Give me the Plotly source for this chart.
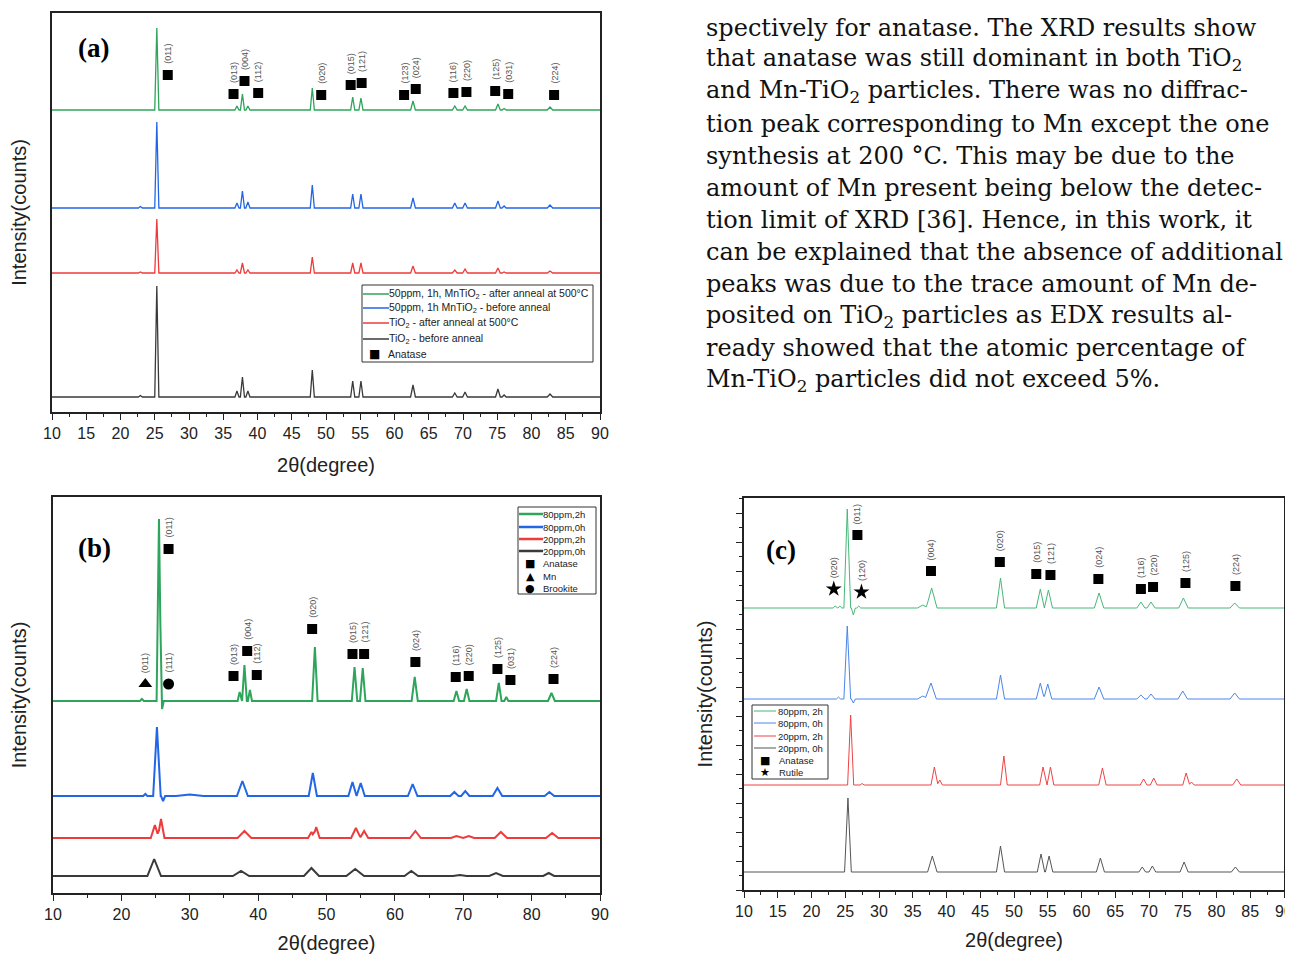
import plotly.graph_objects as go

W, H = 1293, 954
OFF = 8  # page body margin offset of the plot div

# ---------------- DATA ----------------
# Panel (a): peak table (2theta positions shared, heights per series, a.u.)
a_pos = [22.9, 25.3, 37.0, 37.8, 38.6, 48.0, 53.9, 55.1, 62.7, 68.8, 70.3, 75.1, 76.0, 82.7]
a_wid = [0.3, 0.3, 0.3, 0.3, 0.3, 0.3, 0.3, 0.3, 0.35, 0.35, 0.35, 0.35, 0.3, 0.4]
a_green_h = [0.5, 82, 4, 16, 4, 22, 13, 12, 9, 4, 4, 6, 1.5, 3]
a_blue_h = [1.5, 86, 5, 17, 6, 23, 14, 14, 10, 5, 5, 7, 2, 3]
a_red_h = [1.0, 54, 3, 10, 3, 16, 10, 10, 7, 3, 4, 5, 1, 2]
a_black_h = [1.5, 111, 6, 20, 6, 27, 16, 16, 12, 4, 5, 8, 2, 3]
a_base = {"green": 302, "blue": 204, "red": 139, "black": 15}
a_names = ["50ppm, 1h, MnTiO<sub>2</sub> - after anneal at 500°C",
           "50ppm, 1h MnTiO<sub>2</sub> - before anneal",
           "TiO<sub>2</sub> - after anneal at 500°C",
           "TiO<sub>2</sub> - before anneal"]
a_anat_x = [26.9, 36.5, 38.1, 40.1, 49.3, 53.6, 55.2, 61.4, 63.1, 68.6, 70.5, 74.7, 76.6, 83.3]
a_anat_y = [337, 318, 331, 319, 317, 327, 329, 317, 323, 319, 320, 321, 318, 317]
a_anat_lbl = ["(011)", "(013)", "(004)", "(112)", "(020)", "(015)", "(121)", "(123)",
              "(024)", "(116)", "(220)", "(125)", "(031)", "(224)"]

# Panel (b)
b_green_pos = [23.0, 25.5, 25.95, 37.3, 38.0, 38.8, 48.3, 54.1, 55.3, 62.9, 69.0, 70.5, 75.2, 76.3, 82.9]
b_green_h = [2, 182, -8, 9, 36, 11, 54, 34, 33, 24, 10, 12, 18, 4, 8]
b_green_w = [0.3, 0.35, 0.25, 0.3, 0.35, 0.3, 0.4, 0.4, 0.4, 0.45, 0.4, 0.4, 0.4, 0.3, 0.5]
b_blue_pos = [23.5, 25.2, 26.1, 30.0, 37.7, 48.0, 53.8, 55.0, 62.6, 68.7, 70.3, 75.0, 82.6]
b_blue_h = [2, 69, -5, 1.5, 15, 23, 14, 13, 12, 4, 5, 8, 4]
b_blue_w = [0.3, 0.55, 0.3, 2.0, 0.8, 0.6, 0.6, 0.6, 0.7, 0.6, 0.6, 0.7, 0.7]
b_red_pos = [24.9, 25.8, 38.0, 47.8, 48.5, 54.3, 55.5, 63.0, 69.0, 70.8, 75.5, 83.0]
b_red_h = [13, 19, 7, 6, 11, 10, 7, 7, 2, 2, 6, 5]
b_red_w = [0.6, 0.5, 1.0, 0.5, 0.5, 0.7, 0.6, 0.8, 0.8, 0.8, 0.9, 0.9]
b_black_pos = [24.8, 37.5, 47.8, 54.2, 62.4, 69.5, 74.8, 82.5]
b_black_h = [17, 5, 8, 7, 5, 1, 3, 3]
b_black_w = [1.0, 1.2, 1.1, 1.3, 1.0, 1.0, 1.0, 0.8]
b_base = {"green": 192, "blue": 97, "red": 55, "black": 17}
b_names = ["80ppm,2h", "80ppm,0h", "20ppm,2h", "20ppm,0h"]
b_anat_x = [26.9, 36.4, 38.4, 39.8, 47.9, 53.8, 55.5, 63.0, 68.9, 70.8, 75.0, 76.9, 83.2]
b_anat_y = [344, 217, 242, 218, 264, 239, 239, 231, 216, 217, 224, 213, 214]
b_anat_lbl = ["(011)", "(013)", "(004)", "(112)", "(020)", "(015)", "(121)", "(024)",
              "(116)", "(220)", "(125)", "(031)", "(224)"]
b_mn_x, b_mn_y, b_mn_lbl = [23.5], [209], ["(011)"]
b_br_x, b_br_y, b_br_lbl = [26.9], [209], ["(111)"]

# Panel (c)
c_green_pos = [23.5, 24.2, 25.3, 26.2, 27.0, 36.5, 37.8, 48.0, 53.9, 55.1, 62.6, 68.8, 70.3, 75.1, 82.7]
c_green_h = [2, 2, 99, -7, 2, 3, 20, 30, 19, 18, 15, 6, 6, 10, 5]
c_green_w = [0.3, 0.3, 0.5, 0.3, 0.3, 0.8, 0.8, 0.6, 0.6, 0.6, 0.7, 0.6, 0.6, 0.7, 0.7]
c_blue_pos = [24.0, 25.3, 26.2, 36.5, 37.7, 48.0, 53.9, 55.0, 62.6, 68.8, 70.3, 75.0, 82.7]
c_blue_h = [2, 73, -4, 3, 16, 24, 16, 15, 12, 4, 5, 8, 6]
c_blue_w = [0.3, 0.5, 0.3, 0.8, 0.8, 0.6, 0.6, 0.6, 0.7, 0.6, 0.6, 0.7, 0.7]
c_red_pos = [25.8, 27.5, 38.2, 39.0, 48.5, 54.3, 55.4, 63.1, 69.2, 70.7, 75.5, 76.3, 83.0]
c_red_h = [70, 1.5, 18, 5, 29, 18, 18, 17, 6, 7, 12, 3, 6]
c_red_w = [0.45, 0.3, 0.5, 0.4, 0.5, 0.5, 0.5, 0.55, 0.5, 0.5, 0.5, 0.4, 0.6]
c_black_pos = [25.4, 37.9, 48.0, 54.0, 55.2, 62.8, 69.0, 70.5, 75.2, 82.8]
c_black_h = [74, 16, 26, 18, 16, 14, 5, 6, 10, 5]
c_black_w = [0.5, 0.7, 0.6, 0.55, 0.55, 0.6, 0.5, 0.5, 0.6, 0.6]
c_base = {"green": 282, "blue": 191, "red": 105, "black": 18}
c_names = ["80ppm, 2h", "80ppm, 0h", "20ppm, 2h", "20ppm, 0h"]
c_anat_x = [26.8, 37.7, 47.9, 53.3, 55.4, 62.5, 68.8, 70.6, 75.4, 82.8]
c_anat_y = [355, 319, 328, 316, 315, 311, 301, 303, 307, 304]
c_anat_lbl = ["(011)", "(004)", "(020)", "(015)", "(121)", "(024)", "(116)", "(220)", "(125)", "(224)"]
c_rut_x, c_rut_y, c_rut_lbl = [23.3, 27.4], [301, 298], ["(020)", "(120)"]

para_lines = [
    "(121), (024), (116), (220), (123), and (224) re-",
    "spectively for anatase. The XRD results show",
    "that anatase was still dominant in both TiO<sub>2</sub>",
    "and Mn-TiO<sub>2</sub> particles. There was no diffrac-",
    "tion peak corresponding to Mn except the one",
    "synthesis at 200 °C. This may be due to the",
    "amount of Mn present being below the detec-",
    "tion limit of XRD [36]. Hence, in this work, it",
    "can be explained that the absence of additional",
    "peaks was due to the trace amount of Mn de-",
    "posited on TiO<sub>2</sub> particles as EDX results al-",
    "ready showed that the atomic percentage of",
    "Mn-TiO<sub>2</sub> particles did not exceed 5%.",
]

# ---------------- helpers ----------------
def fx(p):
    return (p - OFF) / W


def fy(p):
    return 1 - (p - OFF) / H


def profile(base, pos, hts, wids):
    xs = {10.0, 90.0}
    for c, w in zip(pos, wids):
        xs |= {c - w, c, c + w}
    xs = sorted(x for x in xs if 10 <= x <= 90)
    ys = []
    for x in xs:
        y = base
        for c, h, w in zip(pos, hts, wids):
            d = abs(x - c)
            if d < w:
                y += h * (1 - d / w)
        ys.append(y)
    return xs, ys


SANS = "Liberation Sans, Arial, sans-serif"
fig = go.Figure()
annotations = []
shapes = []

A_COL = {"green": "#2ea55a", "blue": "#2266e6", "red": "#ee3b3b", "black": "#3a3a3a"}
C_COL = {"green": "#46b878", "blue": "#4a86e8", "red": "#ee4444", "black": "#555555"}

for key, h, nm in zip(["green", "blue", "red", "black"],
                      [a_green_h, a_blue_h, a_red_h, a_black_h], a_names):
    xs, ys = profile(a_base[key], a_pos, h, a_wid)
    fig.add_trace(go.Scatter(x=xs, y=ys, mode="lines", name=nm, showlegend=False,
                             line=dict(color=A_COL[key], width=1.3), xaxis="x", yaxis="y"))

for key, p, h, w, nm in zip(["green", "blue", "red", "black"],
                            [b_green_pos, b_blue_pos, b_red_pos, b_black_pos],
                            [b_green_h, b_blue_h, b_red_h, b_black_h],
                            [b_green_w, b_blue_w, b_red_w, b_black_w], b_names):
    xs, ys = profile(b_base[key], p, h, w)
    fig.add_trace(go.Scatter(x=xs, y=ys, mode="lines", name=nm, showlegend=False,
                             line=dict(color=A_COL[key], width=2), xaxis="x2", yaxis="y2"))

for key, p, h, w, nm in zip(["green", "blue", "red", "black"],
                            [c_green_pos, c_blue_pos, c_red_pos, c_black_pos],
                            [c_green_h, c_blue_h, c_red_h, c_black_h],
                            [c_green_w, c_blue_w, c_red_w, c_black_w], c_names):
    xs, ys = profile(c_base[key], p, h, w)
    fig.add_trace(go.Scatter(x=xs, y=ys, mode="lines", name=nm, showlegend=False,
                             line=dict(color=C_COL[key], width=1), xaxis="x3", yaxis="y3"))


def add_markers(xs, ys, lbls, symbol, size, xa, ya, name):
    fig.add_trace(go.Scatter(x=xs, y=ys, mode="markers", name=name, showlegend=False,
                             marker=dict(symbol=symbol, size=size, color="black"),
                             xaxis=xa, yaxis=ya))
    for x, y, t in zip(xs, ys, lbls):
        annotations.append(dict(x=x, y=y, xref=xa, yref=ya, text=t, showarrow=False,
                                textangle=-90, yanchor="bottom", xanchor="center", yshift=9,
                                font=dict(family=SANS, size=9, color="#555")))


add_markers(a_anat_x, a_anat_y, a_anat_lbl, "square", 10, "x", "y", "Anatase")
add_markers(b_anat_x, b_anat_y, b_anat_lbl, "square", 10, "x2", "y2", "Anatase")
add_markers(b_mn_x, b_mn_y, b_mn_lbl, "triangle-up", 12, "x2", "y2", "Mn")
add_markers(b_br_x, b_br_y, b_br_lbl, "circle", 11, "x2", "y2", "Brookite")
add_markers(c_anat_x, c_anat_y, c_anat_lbl, "square", 10, "x3", "y3", "Anatase")
add_markers(c_rut_x, c_rut_y, c_rut_lbl, "star", 12, "x3", "y3", "Rutile")


def legend_box(x0, y0, x1, y1):
    shapes.append(dict(type="rect", xref="paper", yref="paper", x0=fx(x0), x1=fx(x1),
                       y0=fy(y1), y1=fy(y0), line=dict(color="#333", width=1),
                       fillcolor="white", layer="above"))


def legend_line(x0, x1, y, color, width, text, tx, fs):
    shapes.append(dict(type="line", xref="paper", yref="paper", x0=fx(x0), x1=fx(x1),
                       y0=fy(y), y1=fy(y), line=dict(color=color, width=width), layer="above"))
    annotations.append(dict(x=fx(tx), y=fy(y), xref="paper", yref="paper", text=text,
                            showarrow=False, xanchor="left", yanchor="middle",
                            font=dict(family=SANS, size=fs, color="#222")))


def legend_glyph(gx, y, glyph, gsize, text, tx, fs):
    annotations.append(dict(x=fx(gx), y=fy(y), xref="paper", yref="paper", text=glyph,
                            showarrow=False, xanchor="center", yanchor="middle",
                            font=dict(family="DejaVu Sans", size=gsize, color="black")))
    annotations.append(dict(x=fx(tx), y=fy(y), xref="paper", yref="paper", text=text,
                            showarrow=False, xanchor="left", yanchor="middle",
                            font=dict(family=SANS, size=fs, color="#222")))


# (a)
legend_box(362, 285, 593, 362)
for i, key in enumerate(["green", "blue", "red", "black"]):
    legend_line(363, 389, [294, 308, 323, 339][i], A_COL[key], 1.5, a_names[i], 387, 10.5)
legend_glyph(374, 354, "■", 12, "Anatase", 386, 10.5)
# (b)
legend_box(518, 507, 596, 594)
for i, key in enumerate(["green", "blue", "red", "black"]):
    legend_line(519, 543, [514, 527, 539, 551][i], A_COL[key], 2.5, b_names[i], 541, 9.5)
legend_glyph(530, 563, "■", 11, "Anatase", 541, 9.5)
legend_glyph(530, 576, "▲", 11, "Mn", 541, 9.5)
legend_glyph(530, 588, "●", 11, "Brookite", 541, 9.5)
# (c)
legend_box(752, 705, 828, 779)
for i, key in enumerate(["green", "blue", "red", "black"]):
    legend_line(754, 776, [711, 723, 736, 748][i], C_COL[key], 1, c_names[i], 776, 9.5)
legend_glyph(765, 760, "■", 11, "Anatase", 777, 9.5)
legend_glyph(765, 772, "★", 11, "Rutile", 777, 9.5)

for t, x, y in [("(a)", 93, 48), ("(b)", 94, 548), ("(c)", 781, 550)]:
    annotations.append(dict(x=fx(x), y=fy(y), xref="paper", yref="paper", text="<b>" + t + "</b>",
                            showarrow=False, xanchor="center", yanchor="middle",
                            font=dict(family="Liberation Serif, Times New Roman, serif", size=27,
                                      color="black")))

for i, line in enumerate(para_lines):
    yc = 28 + 32 * (i - 1)
    annotations.append(dict(x=fx(704), y=fy(yc), xref="paper", yref="paper", text=line,
                            showarrow=False, xanchor="left", yanchor="middle",
                            font=dict(family="DejaVu Serif, serif", size=24, color="#111")))

AX_LINE = dict(showline=True, linecolor="#222", linewidth=1.5, mirror=True,
               showgrid=False, zeroline=False)
TICKF = dict(family=SANS, size=16, color="#222")
TITLEF = dict(family=SANS, size=20, color="#222")


def xaxis(dom, dtick, minor, standoff):
    return dict(domain=[fx(dom[0]), fx(dom[1])], range=[10, 90], tick0=10, dtick=dtick,
                ticks="outside", ticklen=6, tickwidth=1.2, tickcolor="#222",
                minor=dict(dtick=minor, tick0=10, ticks="outside", ticklen=3, tickcolor="#222"),
                tickfont=TICKF, title=dict(text="2θ(degree)", font=TITLEF, standoff=standoff),
                automargin=False, **AX_LINE)


def yaxis(dom, rng, xa, standoff, **kw):
    d = dict(domain=[fy(dom[1]), fy(dom[0])], range=rng, anchor=xa, showticklabels=False,
             title=dict(text="Intensity(counts)", font=TITLEF, standoff=standoff),
             automargin=False, **AX_LINE)
    d.update(kw)
    return d


layout = dict(
    width=W, height=H, margin=dict(l=0, r=0, t=0, b=0),
    paper_bgcolor="white", plot_bgcolor="white", showlegend=False,
    xaxis=dict(anchor="y", **xaxis((52, 600), 5, 2.5, 17)),
    yaxis=yaxis((13, 412), [0, 399], "x", 19, ticks=""),
    xaxis2=dict(anchor="y2", **xaxis((53, 600), 10, 5, 14)),
    yaxis2=yaxis((497, 893), [0, 396], "x2", 19, ticks=""),
    xaxis3=dict(anchor="y3", **xaxis((744, 1284), 5, 2.5, 14)),
    yaxis3=yaxis((498, 890), [0, 392], "x3", 18, ticks="outside", ticklen=6, tickwidth=1.2,
                 tickcolor="#222", tick0=0, dtick=29,
                 minor=dict(dtick=14.5, tick0=0, ticks="outside", ticklen=3, tickcolor="#222")),
    annotations=annotations, shapes=shapes,
)
fig.update_layout(**layout)
fig.write_html("out.html")
